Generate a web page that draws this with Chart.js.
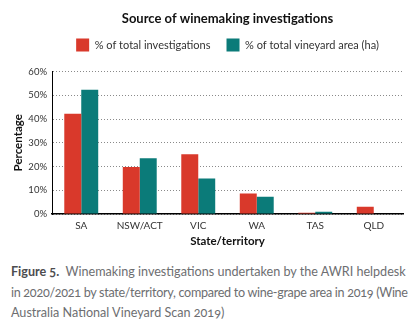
<!DOCTYPE html>
<html>
<head>
<meta charset="utf-8">
<script src="https://cdn.jsdelivr.net/npm/chart.js@4/dist/chart.umd.min.js"></script>
<style>
  body { margin: 0; background: #fff; }
  #wrap { position: relative; width: 413px; height: 252px; }
  #caption {
    position: absolute; left: 11px; top: 262px; width: 402px; white-space: nowrap;
    font-family: Lato, "Open Sans", sans-serif; font-size: 12.6px; line-height: 20.5px;
    color: #6d6e71; font-variant-numeric: oldstyle-nums;
  }
  #caption b { color: #4d4d4f; }
  #caption .tight { letter-spacing: -0.3px; }
</style>
</head>
<body>
<div id="wrap"><canvas id="chart"></canvas></div>
<div id="caption"><b>Figure 5.</b>&nbsp; Winemaking investigations undertaken by the AWRI helpdesk<br><span class="tight">in 2020/2021 by state/territory, compared to wine-grape area in 2019 (Wine</span><br>Australia National Vineyard Scan 2019)</div>
<script>
const states = ["SA", "NSW/ACT", "VIC", "WA", "TAS", "QLD"];
const investigations = [42.2, 19.8, 25.2, 8.6, 0.5, 3.1];
const vineyardArea = [52.4, 23.5, 15.0, 7.3, 1.0, 0];
const seriesNames = ["% of total investigations", "% of total vineyard area (ha)"];
const yTicks = [0, 10, 20, 30, 40, 50, 60];

// push the plot down a bit below the legend
const legendGap = {
    id: 'legendGap',
    beforeInit(chart) {
        const fit = chart.legend.fit;
        chart.legend.fit = function () {
            fit.bind(chart.legend)();
            this.height += 10;
        };
    }
};

const ctx = document.getElementById('chart').getContext('2d');
new Chart(ctx, {
    type: 'bar',
    data: {
        labels: states,
        datasets: [{
            label: seriesNames[0],
            data: investigations,
            backgroundColor: '#d9392b'
        }, {
            label: seriesNames[1],
            data: vineyardArea,
            backgroundColor: '#0b7b79'
        }]
    },
    plugins: [legendGap],
    options: {
        responsive: true,
        maintainAspectRatio: false,
        animation: false,
        layout: { padding: { left: 0, right: 10, top: 0, bottom: 0 } },
        datasets: {
            bar: { categoryPercentage: 0.58, barPercentage: 1.0 }
        },
        plugins: {
            title: {
                display: true,
                fullSize: false,
                text: 'Source of winemaking investigations',
                color: '#111',
                font: { family: 'Lato', size: 13, weight: 'bold' },
                padding: { top: 11, bottom: -4 }
            },
            legend: {
                fullSize: false,
                labels: {
                    boxWidth: 13,
                    boxHeight: 13,
                    padding: 16,
                    color: '#333',
                    font: { family: 'Lato', size: 11 }
                }
            },
            tooltip: { enabled: false }
        },
        scales: {
            x: {
                grid: { display: false, drawTicks: false },
                border: { color: '#000', width: 1.5 },
                ticks: { color: '#333', font: { family: 'Lato', size: 10 }, padding: 6 },
                title: {
                    display: true, text: 'State/territory', color: '#111',
                    font: { family: 'Lato', size: 11.5, weight: 'bold' }, padding: { top: 2, bottom: 4 }
                },
                afterFit: (scale) => { scale.height = 38; }
            },
            y: {
                min: 0,
                max: 60,
                afterBuildTicks: (scale) => { scale.ticks = yTicks.map(v => ({ value: v })); },
                grid: { color: '#8a8a8a', drawTicks: false, lineWidth: 1 },
                border: { color: '#000', width: 1, dash: [1, 2] },
                ticks: {
                    color: '#333', font: { family: 'Lato', size: 9.5 }, padding: 5,
                    callback: (v) => v + '%'
                },
                title: {
                    display: true, text: 'Percentage', color: '#111',
                    font: { family: 'Lato', size: 11.5, weight: 'bold' }, padding: { top: 11, bottom: 0 }
                },
                afterFit: (scale) => { scale.width = 52; }
            }
        }
    }
});
</script>
</body>
</html>
